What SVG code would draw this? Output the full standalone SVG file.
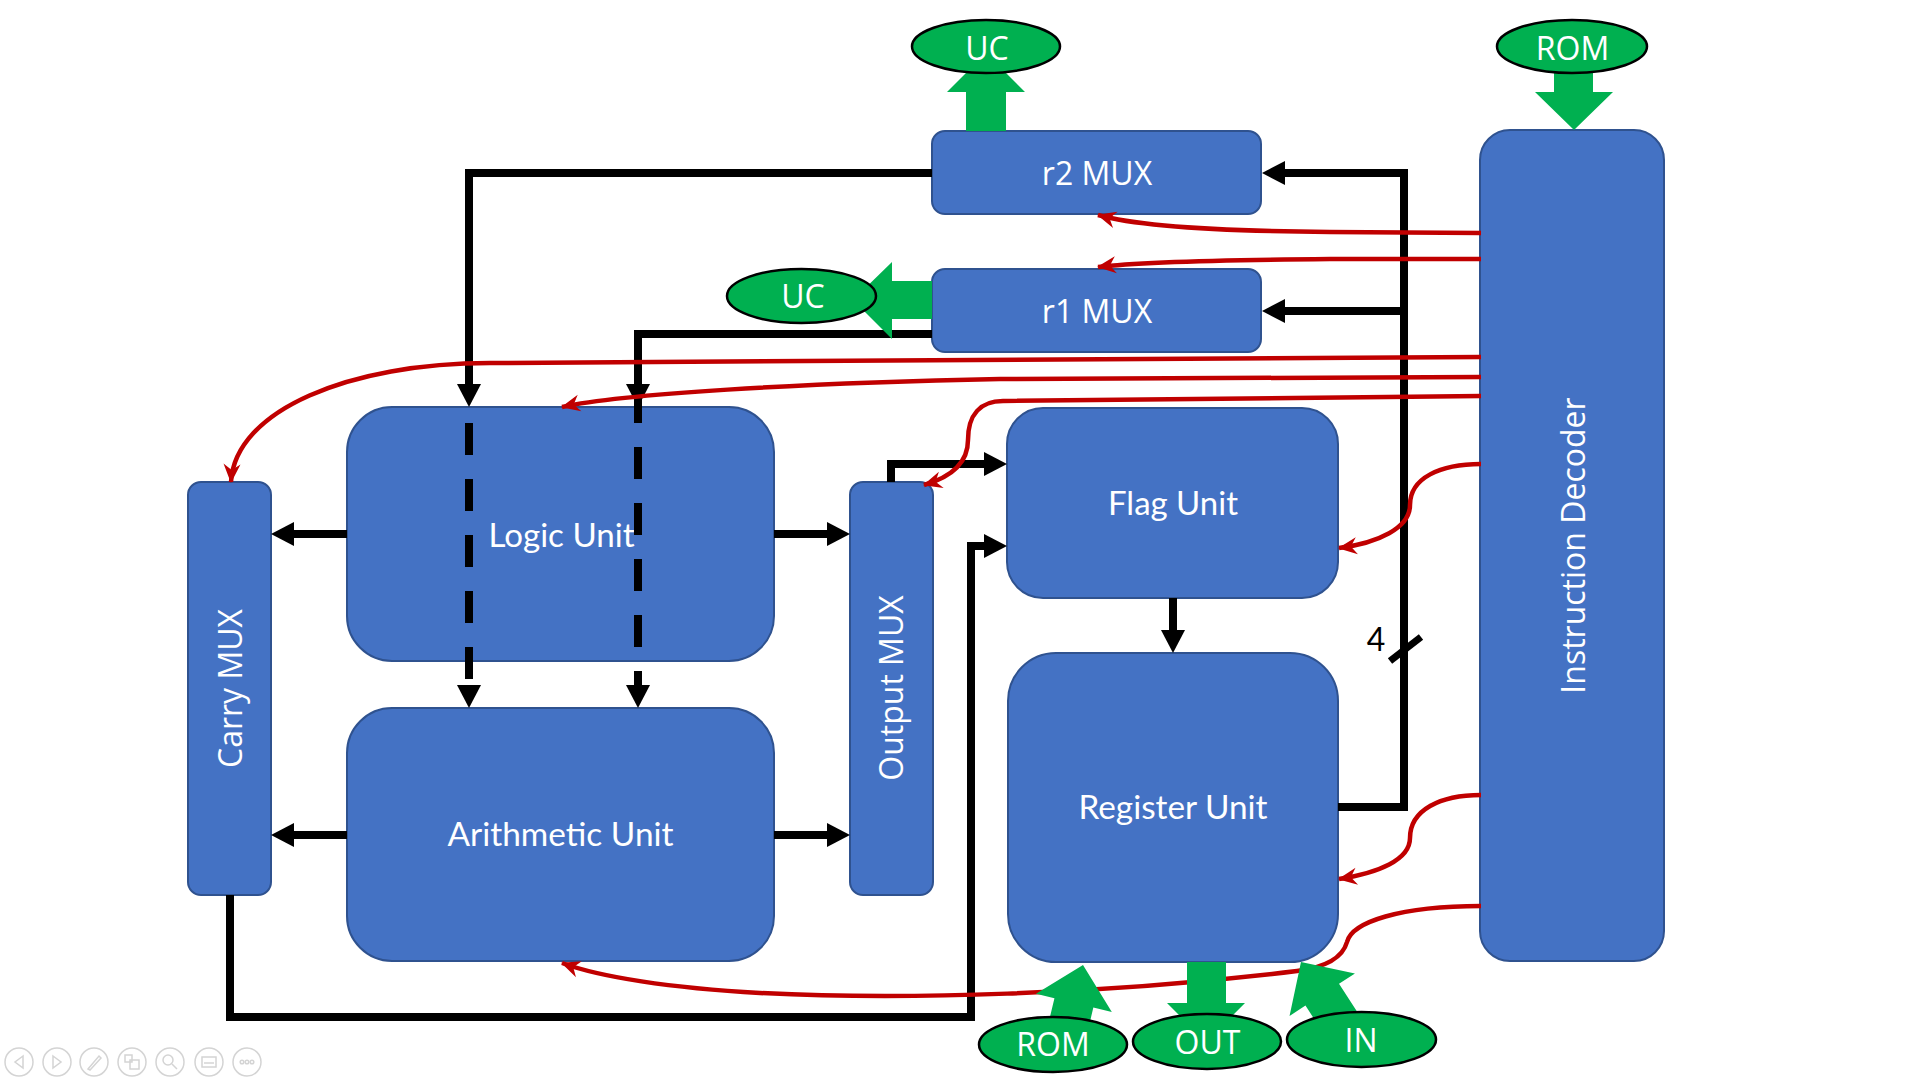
<svg xmlns="http://www.w3.org/2000/svg" width="1920" height="1080" viewBox="0 0 1920 1080">
<style>
.box{fill:#4472C4;stroke:#2F528F;stroke-width:2}
.ell{fill:#00B050;stroke:#000;stroke-width:2.5}
.garrow{fill:#00B050}
.lbl{fill:#fff;font-family:"Open Sans","Noto Sans","DejaVu Sans",sans-serif;font-size:32px;text-anchor:middle}
.lblc{fill:#fff;font-family:Lato,"Liberation Sans",sans-serif;font-size:32px;text-anchor:middle}
.bk{fill:none;stroke:#000;stroke-width:8;stroke-linejoin:miter;stroke-linecap:butt}
.dash{stroke-dasharray:32 24}
.rd{fill:none;stroke:#C00000;stroke-width:4.5}
.ui{fill:none;stroke:#d4d4d4;stroke-width:1.5}
</style>
<defs>
<marker id="ba" markerUnits="userSpaceOnUse" markerWidth="23" markerHeight="24" viewBox="0 -12 23 24" refX="0" refY="0" orient="auto"><path d="M0,-12 L23,0 L0,12 Z" fill="#000"/></marker>
<marker id="ra" markerUnits="userSpaceOnUse" markerWidth="20" markerHeight="18" viewBox="-19 -9 20 18" refX="0" refY="0" orient="auto"><path d="M1,0 L-18,-8.5 L-12,0 L-18,8.5 Z" fill="#C00000"/></marker>
</defs>
<rect width="1920" height="1080" fill="#fff"/>

<g id="n-r2mux"><rect class="box" x="932" y="131" width="329" height="83" rx="13"/><text class="lbl" x="1097" y="185">r2 MUX</text></g>
<g id="n-r1mux"><rect class="box" x="932" y="269" width="329" height="83" rx="13"/><text class="lbl" x="1097" y="323">r1 MUX</text></g>
<g id="n-decoder"><rect class="box" x="1480" y="130" width="184" height="831" rx="30"/><text class="lbl" x="1585" y="545.5" transform="rotate(-90 1585 545.5)">Instruction Decoder</text></g>
<g id="n-carry"><rect class="box" x="188" y="482" width="83" height="413" rx="13"/><text class="lbl" x="242" y="688.5" transform="rotate(-90 242 688.5)">Carry MUX</text></g>
<g id="n-output"><rect class="box" x="850" y="482" width="83" height="413" rx="13"/><text class="lbl" x="903" y="688" transform="rotate(-90 903 688)">Output MUX</text></g>
<g id="n-logic"><rect class="box" x="347" y="407" width="427" height="254" rx="45"/><text class="lblc" x="561.5" y="547" textLength="146" lengthAdjust="spacingAndGlyphs">Logic Unit</text></g>
<g id="n-arith"><rect class="box" x="347" y="708" width="427" height="253" rx="45"/><text class="lblc" x="560.5" y="846" textLength="226" lengthAdjust="spacingAndGlyphs">Arithmetic Unit</text></g>
<g id="n-flag"><rect class="box" x="1007" y="408" width="331" height="190" rx="36"/><text class="lblc" x="1173" y="515" textLength="130" lengthAdjust="spacingAndGlyphs">Flag Unit</text></g>
<g id="n-register"><rect class="box" x="1008" y="653" width="330" height="309" rx="48"/><text class="lblc" x="1173" y="819" textLength="189" lengthAdjust="spacingAndGlyphs">Register Unit</text></g>

<g id="connectors">
<path class="bk" d="M932,173 L469,173 L469,384" marker-end="url(#ba)"/>
<path class="bk" d="M932,334 L638,334 L638,384" marker-end="url(#ba)"/>
<path class="bk dash" d="M469,423 L469,685" marker-end="url(#ba)"/>
<path class="bk dash" d="M638,391 L638,685" marker-end="url(#ba)"/>
<path class="bk" d="M347,534 L294,534" marker-end="url(#ba)"/>
<path class="bk" d="M774,534 L827,534" marker-end="url(#ba)"/>
<path class="bk" d="M347,835 L294,835" marker-end="url(#ba)"/>
<path class="bk" d="M774,835 L827,835" marker-end="url(#ba)"/>
<path class="bk" d="M891,482 L891,464 L984,464" marker-end="url(#ba)"/>
<path class="bk" d="M230,895 L230,1017 L971,1017 L971,546 L984,546" marker-end="url(#ba)"/>
<path class="bk" d="M1173,598 L1173,630" marker-end="url(#ba)"/>
<path class="bk" d="M1338,807 L1404,807 L1404,173 L1285,173" marker-end="url(#ba)"/>
<path class="bk" d="M1404,311 L1285,311" marker-end="url(#ba)"/>
<path d="M1390,661 L1421,637" stroke="#000" stroke-width="7"/>
<text x="1376" y="651" font-family="Lato,'Liberation Sans',sans-serif" font-size="32" text-anchor="middle" fill="#000">4</text>

<path class="rd" d="M1481,233 L1330,232 C1200,231 1130,224 1098,215" marker-end="url(#ra)"/>
<path class="rd" d="M1481,259 L1330,259 C1200,260 1130,263 1098,267" marker-end="url(#ra)"/>
<path class="rd" d="M1481,357 L490,363 C350,363 235,410 231,482" marker-end="url(#ra)"/>
<path class="rd" d="M1481,377 L1000,379 C800,383 620,394 562,407" marker-end="url(#ra)"/>
<path class="rd" d="M1481,396 L1003,401 C980,401 968,415 968,440 C968,465 948,478 924,485" marker-end="url(#ra)"/>
<path class="rd" d="M1481,464 C1440,464 1410,478 1410,505 C1410,528 1378,543 1339,548" marker-end="url(#ra)"/>
<path class="rd" d="M1481,795 C1440,795 1410,810 1410,838 C1410,860 1378,873 1339,879" marker-end="url(#ra)"/>
<path class="rd" d="M1481,906 C1400,906 1352,922 1347,942 C1342,960 1320,968 1297,971 C1100,995 900,1000 760,993 C670,988 600,977 562,963" marker-end="url(#ra)"/>

<polygon class="garrow" points="966,131 966,92 947,92 986,53 1025,92 1006,92 1006,131"/>
<polygon class="garrow" points="1554,60 1593,60 1593,92 1613,92 1574,130 1535,92 1554,92"/>
<polygon class="garrow" points="932,281 892,281 892,262 853,300 892,339 892,319 932,319"/>
<polygon class="garrow" points="1187,962 1226,962 1226,1003 1245,1003 1206,1042 1167,1003 1187,1003"/>
<polygon class="garrow" points="0,0 39,39 20,39 20,80 -20,80 -20,39 -39,39" transform="translate(1083,965) rotate(13.5)"/>
<polygon class="garrow" points="0,0 39,39 20,39 20,80 -20,80 -20,39 -39,39" transform="translate(1301,962) rotate(-33)"/>
</g>

<g id="n-uc-top"><ellipse class="ell" cx="986" cy="46.5" rx="74" ry="26.5"/><text class="lbl" x="987" y="60">UC</text></g>
<g id="n-rom-top"><ellipse class="ell" cx="1572" cy="46.5" rx="75" ry="26.5"/><text class="lbl" x="1572.5" y="60">ROM</text></g>
<g id="n-uc-left"><ellipse class="ell" cx="801.5" cy="296" rx="74.5" ry="27"/><text class="lbl" x="803" y="308">UC</text></g>
<g id="n-rom-bottom"><ellipse class="ell" cx="1053" cy="1044.5" rx="74" ry="27.5"/><text class="lbl" x="1053" y="1056">ROM</text></g>
<g id="n-out"><ellipse class="ell" cx="1207" cy="1041.5" rx="74" ry="27.5"/><text class="lbl" x="1207.5" y="1054">OUT</text></g>
<g id="n-in"><ellipse class="ell" cx="1361.5" cy="1039.5" rx="74.5" ry="27.5"/><text class="lbl" x="1361" y="1052">IN</text></g>

<g id="slideshow-controls" class="ui">
<circle cx="19" cy="1062" r="14"/><path d="M23,1056 L15,1062 L23,1068 Z"/>
<circle cx="57" cy="1062" r="14"/><path d="M53,1056 L61,1062 L53,1068 Z"/>
<circle cx="94" cy="1062" r="14"/><path d="M88,1069 L99,1056 L101,1058 L90,1070 Z"/>
<circle cx="132" cy="1062" r="14"/><rect x="125" y="1055" width="7" height="7"/><rect x="130" y="1060" width="9" height="9"/>
<circle cx="170" cy="1062" r="14"/><circle cx="168" cy="1060" r="5"/><path d="M172,1064 L177,1069"/>
<circle cx="209" cy="1062" r="14"/><rect x="202" y="1057" width="14" height="10"/><path d="M204,1063 L214,1063"/>
<circle cx="247" cy="1062" r="14"/><circle cx="242" cy="1062" r="1.8"/><circle cx="247" cy="1062" r="1.8"/><circle cx="252" cy="1062" r="1.8"/>
</g>
</svg>
